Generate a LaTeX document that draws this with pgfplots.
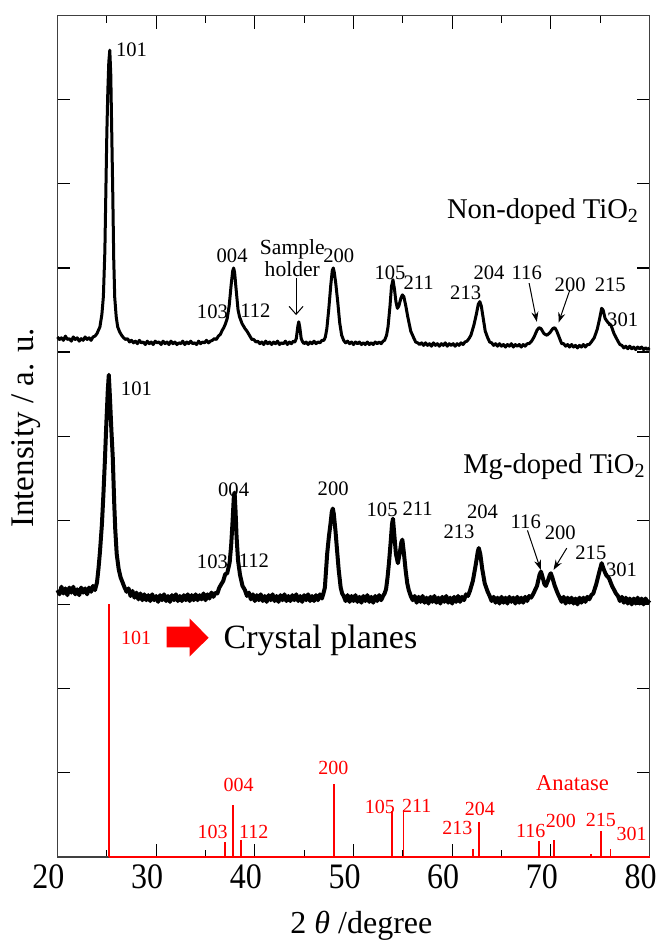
\documentclass[border=0pt]{standalone}
\usepackage{fontspec}
\setmainfont{Liberation Serif}
\usepackage{pgfplots}
\pgfplotsset{compat=1.18}
\usetikzlibrary{arrows.meta}

\begin{document}
\begin{tikzpicture}[
  lb/.style={font=\fontsize{10.3}{12}\selectfont, inner sep=0pt},
  rl/.style={font=\fontsize{10}{12}\selectfont, inner sep=0pt, text=red},
  arr/.style={black, line width=0.5pt, -{Stealth[length=5pt,width=3.5pt]}}
]
\begin{axis}[
  width=296pt, height=420.5pt, scale only axis,
  xmin=20, xmax=80, ymin=0, ymax=10,
  xtick={20,30,...,80}, minor xtick={25,35,...,75},
  ytick={0,1,...,10}, yticklabels={},
  tick align=inside,
  major tick length=6.5pt, minor tick length=3.5pt,
  tick style={black, line width=0.6pt},
  axis line style={black!75, line width=0.8pt},
  /pgf/number format/assume math mode=true,
  xticklabel style={font=\fontsize{16}{18}\selectfont, yscale=1.12, xshift=-4.5pt},
  clip=false,
]
% reference stick pattern (anatase)
\addplot[draw=red, line width=0.8pt] coordinates {(25.26,0) (80,0)};
\addplot[ycomb, draw=red, color=red, line width=0.9pt] coordinates {
(25.26,3.0) (36.95,0.17) (37.8,0.61) (38.58,0.2) (48.05,0.86) (53.9,0.54)
(55.07,0.55) (62.12,0.09) (62.7,0.41) (68.76,0.19) (70.3,0.2) (74.05,0.03)
(75.05,0.31) (76.05,0.09)};

% non-doped TiO2
\addplot[black, line width=1.5pt, line join=round] coordinates {
(20.0,6.18) (20.2,6.15) (20.4,6.17) (20.6,6.14) (20.8,6.19) (21.0,6.15) (21.2,6.16)
(21.4,6.13) (21.6,6.18) (21.8,6.15) (22.0,6.17) (22.2,6.13) (22.4,6.16) (22.6,6.14)
(22.8,6.18) (23.0,6.15) (23.2,6.17) (23.4,6.14) (23.6,6.18) (23.8,6.19) (24.0,6.22)
(24.15,6.26) (24.3,6.3) (24.5,6.45) (24.65,6.66) (24.8,7.2) (24.9,7.9) (25.0,8.6)
(25.1,9.1) (25.2,9.45) (25.3,9.59) (25.4,9.3) (25.5,8.6) (25.6,7.9) (25.7,7.1)
(25.8,6.65) (25.95,6.42) (26.1,6.3) (26.3,6.24) (26.5,6.2) (26.7,6.17) (26.9,6.15)
(27.1,6.16) (27.3,6.12) (27.5,6.14) (27.7,6.11) (27.9,6.13) (28.1,6.1) (28.3,6.14)
(28.5,6.11) (28.7,6.12) (28.9,6.09) (29.1,6.13) (29.3,6.1) (29.5,6.12) (29.7,6.09)
(29.9,6.13) (30.1,6.11) (30.3,6.12) (30.5,6.09) (30.7,6.13) (30.9,6.1) (31.1,6.12)
(31.3,6.09) (31.5,6.13) (31.7,6.1) (31.9,6.12) (32.1,6.09) (32.3,6.11) (32.5,6.1)
(32.7,6.13) (32.9,6.09) (33.1,6.12) (33.3,6.1) (33.5,6.13) (33.7,6.1) (33.9,6.11)
(34.1,6.09) (34.3,6.13) (34.5,6.1) (34.7,6.12) (34.9,6.11) (35.1,6.14) (35.3,6.11)
(35.5,6.13) (35.7,6.14) (35.9,6.16) (36.1,6.15) (36.3,6.19) (36.5,6.21) (36.7,6.26)
(36.85,6.29) (37.0,6.33) (37.2,6.4) (37.4,6.55) (37.6,6.8) (37.75,6.96) (37.85,7.0)
(37.95,6.95) (38.1,6.75) (38.3,6.5) (38.45,6.42) (38.7,6.34) (39.0,6.28) (39.2,6.25)
(39.5,6.19) (39.7,6.15) (39.9,6.15) (40.1,6.12) (40.3,6.13) (40.5,6.1) (40.7,6.12)
(40.9,6.09) (41.1,6.13) (41.3,6.1) (41.5,6.12) (41.7,6.09) (41.9,6.12) (42.1,6.1)
(42.3,6.13) (42.5,6.09) (42.7,6.11) (42.9,6.1) (43.1,6.13) (43.3,6.09) (43.5,6.12)
(43.7,6.1) (43.9,6.13) (44.05,6.12) (44.2,6.16) (44.35,6.3) (44.45,6.36) (44.55,6.3)
(44.7,6.16) (44.85,6.12) (45.0,6.1) (45.2,6.12) (45.4,6.09) (45.6,6.12) (45.8,6.1)
(46.0,6.13) (46.2,6.1) (46.4,6.12) (46.6,6.11) (46.8,6.14) (47.0,6.14) (47.15,6.18)
(47.3,6.28) (47.5,6.52) (47.7,6.8) (47.85,6.97) (47.95,7.0) (48.05,6.95) (48.2,6.82)
(48.4,6.6) (48.6,6.35) (48.8,6.2) (49.0,6.14) (49.2,6.11) (49.4,6.13) (49.6,6.1)
(49.8,6.12) (50.0,6.09) (50.2,6.12) (50.4,6.1) (50.6,6.12) (50.8,6.09) (51.0,6.11)
(51.2,6.09) (51.4,6.12) (51.6,6.09) (51.8,6.11) (52.0,6.09) (52.2,6.12) (52.4,6.1)
(52.6,6.12) (52.8,6.1) (53.0,6.13) (53.15,6.14) (53.35,6.2) (53.5,6.3) (53.7,6.55)
(53.85,6.78) (54.0,6.86) (54.15,6.75) (54.3,6.6) (54.45,6.52) (54.6,6.55) (54.8,6.64)
(54.95,6.68) (55.1,6.66) (55.3,6.55) (55.5,6.42) (55.8,6.25) (56.1,6.17) (56.3,6.12)
(56.5,6.11) (56.7,6.09) (56.9,6.11) (57.1,6.08) (57.3,6.11) (57.5,6.08) (57.7,6.1)
(57.9,6.07) (58.1,6.11) (58.3,6.08) (58.5,6.1) (58.7,6.07) (58.9,6.1) (59.1,6.08)
(59.3,6.11) (59.5,6.07) (59.7,6.1) (59.9,6.08) (60.1,6.1) (60.3,6.07) (60.5,6.1)
(60.7,6.08) (60.9,6.11) (61.1,6.09) (61.3,6.12) (61.5,6.13) (61.7,6.16) (61.9,6.2)
(62.2,6.32) (62.45,6.45) (62.65,6.57) (62.8,6.6) (62.95,6.55) (63.15,6.4) (63.35,6.25)
(63.6,6.17) (63.8,6.12) (64.0,6.11) (64.2,6.08) (64.4,6.1) (64.6,6.07) (64.8,6.1)
(65.0,6.07) (65.2,6.09) (65.4,6.06) (65.6,6.09) (65.8,6.07) (66.0,6.1) (66.2,6.06)
(66.4,6.09) (66.6,6.07) (66.8,6.09) (67.0,6.06) (67.2,6.09) (67.4,6.07) (67.6,6.1)
(67.8,6.1) (68.05,6.13) (68.3,6.18) (68.6,6.26) (68.8,6.29) (69.0,6.28) (69.3,6.22)
(69.6,6.2) (69.9,6.23) (70.2,6.28) (70.4,6.29) (70.6,6.25) (70.9,6.16) (71.1,6.1)
(71.3,6.1) (71.5,6.07) (71.7,6.09) (71.9,6.06) (72.1,6.09) (72.3,6.06) (72.5,6.08)
(72.7,6.05) (72.9,6.08) (73.1,6.06) (73.3,6.09) (73.5,6.06) (73.7,6.09) (73.9,6.09)
(74.1,6.12) (74.4,6.17) (74.7,6.27) (74.95,6.4) (75.15,6.52) (75.3,6.5) (75.5,6.4)
(75.8,6.35) (76.1,6.32) (76.4,6.22) (76.8,6.13) (77.0,6.09) (77.2,6.08) (77.4,6.05)
(77.6,6.07) (77.8,6.04) (78.0,6.07) (78.2,6.04) (78.4,6.06) (78.6,6.03) (78.8,6.06)
(79.0,6.04) (79.2,6.06) (79.4,6.03) (79.6,6.05) (79.8,6.03) (80.0,6.05)};

% Mg-doped TiO2
\addplot[black, line width=2pt, line join=round] coordinates {
(20.0,3.17) (20.2,3.12) (20.4,3.21) (20.6,3.13) (20.8,3.19) (21.0,3.11) (21.2,3.2)
(21.4,3.14) (21.6,3.21) (21.8,3.12) (22.0,3.18) (22.2,3.11) (22.4,3.2) (22.6,3.14)
(22.8,3.19) (23.0,3.12) (23.2,3.2) (23.4,3.15) (23.6,3.22) (23.8,3.17) (24.0,3.26)
(24.15,3.42) (24.3,3.62) (24.5,3.95) (24.65,4.3) (24.8,4.7) (24.95,5.15) (25.1,5.55)
(25.2,5.73) (25.3,5.5) (25.45,5.1) (25.6,4.75) (25.75,4.2) (25.85,3.9) (26.0,3.6)
(26.2,3.42) (26.4,3.32) (26.6,3.26) (26.8,3.2) (27.0,3.15) (27.2,3.19) (27.4,3.1)
(27.6,3.16) (27.8,3.08) (28.0,3.14) (28.2,3.06) (28.4,3.13) (28.6,3.05) (28.8,3.12)
(29.0,3.05) (29.2,3.11) (29.4,3.04) (29.6,3.12) (29.8,3.05) (30.0,3.1) (30.2,3.03)
(30.4,3.11) (30.6,3.05) (30.8,3.12) (31.0,3.04) (31.2,3.1) (31.4,3.03) (31.6,3.11)
(31.8,3.05) (32.0,3.12) (32.2,3.04) (32.4,3.1) (32.6,3.04) (32.8,3.11) (33.0,3.05)
(33.2,3.12) (33.4,3.04) (33.6,3.11) (33.8,3.05) (34.0,3.12) (34.2,3.05) (34.4,3.11)
(34.6,3.06) (34.8,3.13) (35.0,3.05) (35.2,3.12) (35.4,3.07) (35.6,3.14) (35.8,3.09)
(36.0,3.14) (36.2,3.13) (36.4,3.2) (36.6,3.24) (36.8,3.28) (37.0,3.36) (37.2,3.37)
(37.45,3.5) (37.6,3.7) (37.75,4.0) (37.88,4.3) (37.95,4.33) (38.05,4.1) (38.15,3.8)
(38.3,3.52) (38.5,3.35) (38.75,3.22) (39.0,3.17) (39.2,3.1) (39.4,3.14) (39.6,3.06)
(39.8,3.12) (40.0,3.04) (40.2,3.11) (40.4,3.05) (40.6,3.12) (40.8,3.04) (41.0,3.1)
(41.2,3.03) (41.4,3.11) (41.6,3.05) (41.8,3.12) (42.0,3.04) (42.2,3.1) (42.4,3.03)
(42.6,3.11) (42.8,3.05) (43.0,3.12) (43.2,3.04) (43.4,3.1) (43.6,3.04) (43.8,3.11)
(44.0,3.05) (44.2,3.12) (44.4,3.04) (44.6,3.1) (44.8,3.03) (45.0,3.11) (45.2,3.05)
(45.4,3.12) (45.6,3.04) (45.8,3.1) (46.0,3.04) (46.2,3.11) (46.4,3.05) (46.6,3.12)
(46.8,3.07) (46.95,3.13) (47.1,3.2) (47.33,3.6) (47.5,3.8) (47.67,3.96) (47.8,4.1)
(47.9,4.14) (48.0,4.08) (48.17,3.88) (48.35,3.62) (48.5,3.41) (48.7,3.2) (48.85,3.13)
(49.0,3.1) (49.2,3.04) (49.4,3.11) (49.6,3.03) (49.8,3.1) (50.0,3.04) (50.2,3.11)
(50.4,3.03) (50.6,3.09) (50.8,3.02) (51.0,3.1) (51.2,3.04) (51.4,3.11) (51.6,3.03)
(51.8,3.09) (52.0,3.02) (52.2,3.1) (52.4,3.04) (52.6,3.11) (52.8,3.05) (53.0,3.1)
(53.15,3.13) (53.3,3.18) (53.45,3.32) (53.6,3.5) (53.76,3.73) (53.9,3.95) (54.0,4.02)
(54.12,3.85) (54.3,3.6) (54.5,3.49) (54.7,3.62) (54.85,3.74) (54.95,3.77) (55.1,3.62)
(55.28,3.41) (55.45,3.25) (55.6,3.17) (55.8,3.1) (56.0,3.05) (56.2,3.1) (56.4,3.02)
(56.6,3.09) (56.8,3.03) (57.0,3.1) (57.2,3.02) (57.4,3.08) (57.6,3.01) (57.8,3.09)
(58.0,3.03) (58.2,3.1) (58.4,3.02) (58.6,3.08) (58.8,3.01) (59.0,3.09) (59.2,3.03)
(59.4,3.1) (59.6,3.02) (59.8,3.08) (60.0,3.01) (60.2,3.09) (60.4,3.03) (60.6,3.1)
(60.8,3.03) (61.0,3.09) (61.2,3.05) (61.4,3.12) (61.6,3.1) (61.8,3.16) (62.1,3.28)
(62.4,3.48) (62.6,3.63) (62.7,3.67) (62.85,3.6) (63.05,3.42) (63.3,3.25) (63.6,3.15)
(63.8,3.1) (64.0,3.04) (64.2,3.09) (64.4,3.02) (64.6,3.08) (64.8,3.01) (65.0,3.09)
(65.2,3.02) (65.4,3.08) (65.6,3.01) (65.8,3.09) (66.0,3.03) (66.2,3.08) (66.4,3.01)
(66.6,3.09) (66.8,3.02) (67.0,3.08) (67.2,3.02) (67.4,3.09) (67.6,3.04) (67.8,3.1)
(68.0,3.08) (68.2,3.12) (68.4,3.17) (68.6,3.22) (68.85,3.35) (69.0,3.39) (69.15,3.33)
(69.35,3.24) (69.5,3.22) (69.7,3.28) (69.9,3.35) (70.0,3.37) (70.15,3.32) (70.4,3.22)
(70.7,3.13) (70.9,3.08) (71.1,3.03) (71.3,3.09) (71.5,3.01) (71.7,3.08) (71.9,3.02)
(72.1,3.08) (72.3,3.01) (72.5,3.07) (72.7,3.0) (72.9,3.08) (73.1,3.02) (73.3,3.08)
(73.5,3.03) (73.7,3.09) (73.9,3.06) (74.1,3.11) (74.3,3.13) (74.6,3.24) (74.9,3.38)
(75.15,3.49) (75.35,3.42) (75.6,3.35) (75.9,3.31) (76.2,3.22) (76.6,3.13) (76.8,3.1)
(77.0,3.04) (77.2,3.09) (77.4,3.02) (77.6,3.08) (77.8,3.01) (78.0,3.07) (78.2,3.0)
(78.4,3.07) (78.6,3.01) (78.8,3.08) (79.0,3.01) (79.2,3.07) (79.4,3.0) (79.6,3.07)
(79.8,3.02) (80.0,3.05)};

% labels, non-doped
\node[lb] at (axis cs:27.5,9.59) {101};
\node[lb] at (axis cs:35.7,6.48) {103};
\node[lb] at (axis cs:37.7,7.14) {004};
\node[lb] at (axis cs:40.05,6.49) {112};
\node[lb, align=center, font=\fontsize{10.8}{10.8}\selectfont] at (axis cs:43.8,7.12) {Sample\\holder};
\draw[black, line width=0.5pt, -{Straight Barb[length=4pt,width=7pt]}] (axis cs:44.18,6.88) -- (axis cs:44.18,6.44);
\node[lb] at (axis cs:48.5,7.14) {200};
\node[lb] at (axis cs:53.7,6.94) {105};
\node[lb] at (axis cs:56.6,6.83) {211};
\node[lb] at (axis cs:61.37,6.71) {213};
\node[lb] at (axis cs:63.74,6.94) {204};
\node[lb] at (axis cs:67.56,6.94) {116};
\draw[arr] (axis cs:67.8,6.82) -- (axis cs:68.58,6.36);
\node[lb] at (axis cs:71.96,6.8) {200};
\draw[arr] (axis cs:71.93,6.74) -- (axis cs:70.78,6.35);
\node[lb] at (axis cs:76.02,6.8) {215};
\node[lb] at (axis cs:77.28,6.38) {301};
\node[anchor=base east, inner sep=0pt, font=\fontsize{14.3}{16}\selectfont] at (axis cs:78.97,7.59) {Non-doped TiO\textsubscript{2}};

% labels, Mg-doped
\node[lb] at (axis cs:28.0,5.57) {101};
\node[lb] at (axis cs:35.7,3.51) {103};
\node[lb] at (axis cs:37.85,4.36) {004};
\node[lb] at (axis cs:39.9,3.52) {112};
\node[lb] at (axis cs:47.94,4.37) {200};
\node[lb] at (axis cs:52.9,4.13) {105};
\node[lb] at (axis cs:56.5,4.14) {211};
\node[lb] at (axis cs:60.7,3.86) {213};
\node[lb] at (axis cs:63.07,4.1) {204};
\node[lb] at (axis cs:67.46,3.98) {116};
\draw[arr] (axis cs:67.63,3.88) -- (axis cs:68.98,3.41);
\node[lb] at (axis cs:70.95,3.85) {200};
\draw[arr] (axis cs:71.62,3.67) -- (axis cs:70.27,3.41);
\node[lb] at (axis cs:74.06,3.61) {215};
\node[lb] at (axis cs:77.16,3.41) {301};
\node[anchor=base east, inner sep=0pt, font=\fontsize{14.3}{16}\selectfont] at (axis cs:79.65,4.56) {Mg-doped TiO\textsubscript{2}};

% labels, anatase sticks
\node[rl] at (axis cs:27.97,2.6) {101};
\fill[red] (axis cs:31.06,2.49) -- (axis cs:33.38,2.49) -- (axis cs:33.38,2.378)
  -- (axis cs:35.31,2.604) -- (axis cs:33.38,2.835) -- (axis cs:33.38,2.735)
  -- (axis cs:31.06,2.735) -- cycle;
\node[anchor=base west, inner sep=0pt, font=\fontsize{17}{20}\selectfont] at (axis cs:36.8,2.48) {Crystal planes};
\node[rl] at (axis cs:35.72,0.29) {103};
\node[rl] at (axis cs:38.36,0.85) {004};
\node[rl] at (axis cs:39.88,0.3) {112};
\node[rl] at (axis cs:47.97,1.05) {200};
\node[rl] at (axis cs:52.67,0.59) {105};
\node[rl] at (axis cs:56.4,0.61) {211};
\node[rl] at (axis cs:60.53,0.34) {213};
\node[rl] at (axis cs:62.82,0.57) {204};
\node[rl] at (axis cs:67.97,0.3) {116};
\node[rl] at (axis cs:71.02,0.42) {200};
\node[rl] at (axis cs:75.08,0.44) {215};
\node[rl] at (axis cs:78.2,0.27) {301};
\node[rl, font=\fontsize{11.3}{13}\selectfont] at (axis cs:72.2,0.88) {Anatase};

% axis titles
\node[anchor=base, inner sep=0pt, font=\fontsize{16}{19}\selectfont, yshift=-38.2pt] at (axis cs:50.8,0) {2 \textit{θ} /degree};
\node[rotate=90, inner sep=0pt, font=\fontsize{16.5}{19}\selectfont] at (axis cs:16.8,5.1) {Intensity / a. u.};
\end{axis}
\pgfresetboundingbox
\path ([shift={(-28.75pt,-42.65pt)}]current axis.south west) rectangle ([shift={(4pt,7.85pt)}]current axis.north east);
\end{tikzpicture}
\end{document}
